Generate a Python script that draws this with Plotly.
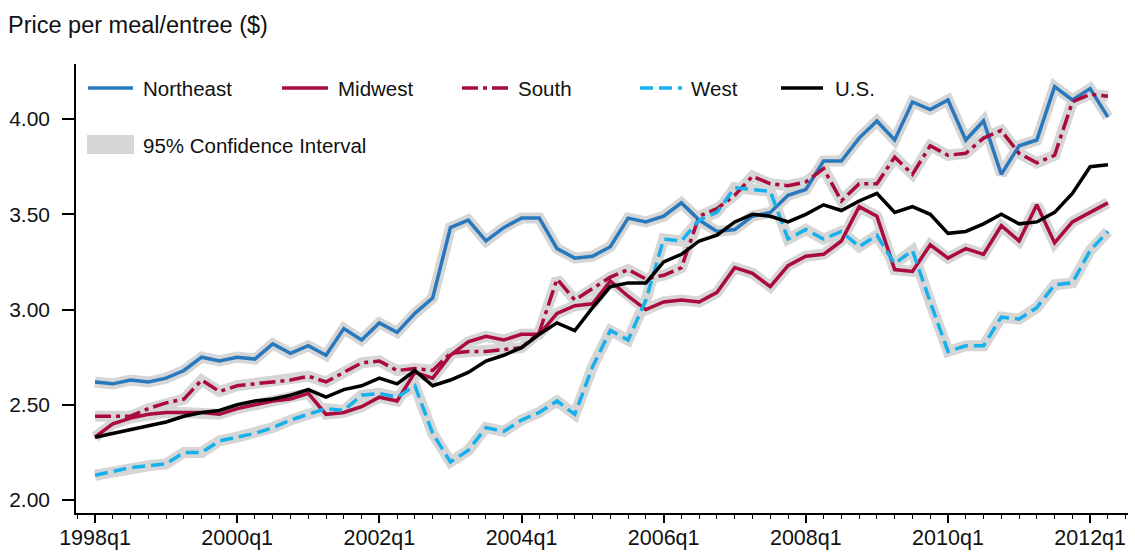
import plotly.graph_objects as go

# Quarterly periods, 1998q1 .. 2012q2
years = list(range(1998, 2013))
quarters = [f"{y}q{q}" for y in years for q in range(1, 5)][:58]
t = list(range(len(quarters)))

northeast = [2.62, 2.61, 2.63, 2.62, 2.64, 2.68, 2.75, 2.73, 2.75, 2.74,
             2.82, 2.77, 2.81, 2.76, 2.90, 2.84, 2.93, 2.88, 2.98, 3.06,
             3.43, 3.47, 3.36, 3.43, 3.48, 3.48, 3.32, 3.27, 3.28, 3.33,
             3.48, 3.46, 3.49, 3.56, 3.47, 3.41, 3.42, 3.49, 3.51, 3.60,
             3.63, 3.78, 3.78, 3.90, 3.99, 3.89, 4.09, 4.05, 4.10, 3.89,
             3.99, 3.71, 3.86, 3.89, 4.17, 4.10, 4.16, 4.01]

midwest = [2.33, 2.40, 2.43, 2.45, 2.46, 2.46, 2.46, 2.45, 2.48, 2.50,
           2.52, 2.53, 2.56, 2.45, 2.46, 2.49, 2.54, 2.52, 2.67, 2.64,
           2.76, 2.83, 2.86, 2.84, 2.87, 2.87, 2.98, 3.02, 3.03, 3.15,
           3.07, 3.00, 3.04, 3.05, 3.04, 3.09, 3.22, 3.19, 3.12, 3.23,
           3.28, 3.29, 3.36, 3.54, 3.49, 3.21, 3.20, 3.34, 3.27, 3.32,
           3.29, 3.44, 3.36, 3.55, 3.35, 3.46, 3.51, 3.56]

south = [2.44, 2.44, 2.44, 2.48, 2.51, 2.53, 2.63, 2.57, 2.60, 2.61,
         2.62, 2.63, 2.65, 2.62, 2.67, 2.72, 2.73, 2.68, 2.69, 2.68,
         2.77, 2.78, 2.78, 2.79, 2.80, 2.88, 3.16, 3.05, 3.11, 3.17,
         3.21, 3.16, 3.18, 3.22, 3.49, 3.53, 3.60, 3.70, 3.66, 3.65,
         3.67, 3.74, 3.57, 3.66, 3.66, 3.80, 3.71, 3.86, 3.81, 3.82,
         3.90, 3.94, 3.82, 3.77, 3.81, 4.09, 4.13, 4.12]

west = [2.13, 2.15, 2.17, 2.18, 2.19, 2.25, 2.25, 2.31, 2.33, 2.35,
        2.38, 2.42, 2.45, 2.48, 2.47, 2.55, 2.56, 2.54, 2.60, 2.35,
        2.20, 2.26, 2.38, 2.36, 2.42, 2.46, 2.52, 2.45, 2.70, 2.89,
        2.84, 3.05, 3.37, 3.36, 3.47, 3.51, 3.64, 3.63, 3.62, 3.37,
        3.42, 3.37, 3.41, 3.33, 3.39, 3.24, 3.31, 3.04, 2.78, 2.81,
        2.81, 2.96, 2.95, 3.01, 3.13, 3.14, 3.31, 3.41]

us = [2.33, 2.35, 2.37, 2.39, 2.41, 2.44, 2.46, 2.47, 2.50, 2.52,
      2.53, 2.55, 2.58, 2.54, 2.58, 2.60, 2.64, 2.61, 2.68, 2.60,
      2.63, 2.67, 2.73, 2.76, 2.80, 2.87, 2.93, 2.89, 3.01, 3.12,
      3.14, 3.14, 3.25, 3.29, 3.36, 3.39, 3.46, 3.50, 3.49, 3.46,
      3.50, 3.55, 3.52, 3.57, 3.61, 3.51, 3.54, 3.50, 3.40, 3.41,
      3.45, 3.50, 3.45, 3.46, 3.51, 3.61, 3.75, 3.76]

y_ticks = [2.0, 2.5, 3.0, 3.5, 4.0]
y_tick_labels = ["2.00", "2.50", "3.00", "3.50", "4.00"]
x_tick_labels = ["1998q1", "2000q1", "2002q1", "2004q1",
                 "2006q1", "2008q1", "2010q1", "2012q1"]
x_ticks = [quarters.index(q) for q in x_tick_labels]

BLUE = "#2878bd"
CRIMSON = "#ab0a3d"
SKY = "#16b0ec"
BLACK = "#000000"
BAND = "#d6d6d6"
FONT = "Liberation Sans"

series = [
    ("Northeast", northeast, BLUE, "solid"),
    ("Midwest", midwest, CRIMSON, "solid"),
    ("South", south, CRIMSON, "16px,5px,4px,5px"),
    ("West", west, SKY, "13px,6px"),
    ("U.S.", us, BLACK, "solid"),
]

fig = go.Figure()

# 95% confidence bands drawn behind every regional series
for name, vals, color, dash in series:
    if name == "U.S.":
        continue
    fig.add_trace(go.Scatter(x=t, y=vals, mode="lines", showlegend=False,
                             hoverinfo="skip",
                             line=dict(color=BAND, width=11)))

for name, vals, color, dash in series:
    fig.add_trace(go.Scatter(x=t, y=vals, mode="lines", name=name,
                             showlegend=False,
                             line=dict(color=color, width=3.5, dash=dash)))

# Legend built from shapes and text
L, R, T, B = 76, 1128, 64, 513


def px(xp):
    return (xp - L) / (R - L)


def py(yp):
    return (B - yp) / (B - T)


legend_items = [
    ("Northeast", BLUE, "solid", 88, 133, 141),
    ("Midwest", CRIMSON, "solid", 282, 328, 336),
    ("South", CRIMSON, "16px,5px,4px,5px", 462, 508, 516),
    ("West", SKY, "13px,6px", 640, 682, 689),
    ("U.S.", BLACK, "solid", 781, 823, 833),
]
shapes = []
annotations = []
for label, color, dash, x0, x1, xt in legend_items:
    shapes.append(dict(type="line", xref="paper", yref="paper",
                       x0=px(x0), x1=px(x1), y0=py(88), y1=py(88),
                       line=dict(color=color, width=3.5, dash=dash)))
    annotations.append(dict(text=label, xref="paper", yref="paper",
                            x=px(xt), y=py(88), xanchor="left",
                            yanchor="middle", showarrow=False,
                            font=dict(family=FONT, size=20.5, color="#111")))
shapes.append(dict(type="rect", xref="paper", yref="paper",
                   x0=px(87), x1=px(134), y0=py(154), y1=py(135),
                   fillcolor=BAND, line=dict(width=0)))
annotations.append(dict(text="95% Confidence Interval", xref="paper",
                        yref="paper", x=px(141), y=py(145), xanchor="left",
                        yanchor="middle", showarrow=False,
                        font=dict(family=FONT, size=20.5, color="#111")))

fig.update_layout(
    width=1135, height=552,
    margin=dict(l=L, r=1135 - R, t=T, b=552 - B, autoexpand=False),
    paper_bgcolor="white", plot_bgcolor="white",
    font=dict(family=FONT, size=21, color="#111"),
    title=dict(text="Price per meal/entree ($)", xref="container",
               yref="container", x=8 / 1135, y=1 - 25 / 552,
               xanchor="left", yanchor="middle",
               font=dict(family=FONT, size=23.5, color="#111")),
    shapes=shapes,
    annotations=annotations,
    showlegend=False,
)

fig.update_xaxes(
    range=[-1.07, 58.13], automargin=False,
    tickmode="array", tickvals=x_ticks, ticktext=x_tick_labels,
    ticks="outside", ticklen=8, tickwidth=1.5, tickcolor="black",
    minor=dict(tickmode="linear", tick0=0, dtick=1, ticks="outside",
               ticklen=4, tickwidth=1, tickcolor="black"),
    showline=True, linecolor="black", linewidth=1.5,
    showgrid=False, zeroline=False, ticklabelstandoff=-4,
    tickfont=dict(family=FONT, size=21.5, color="#111"),
)
fig.update_yaxes(
    range=[1.932, 4.289], automargin=False,
    tickmode="array", tickvals=y_ticks, ticktext=y_tick_labels,
    ticks="outside", ticklen=12, tickwidth=1.5, tickcolor="black",
    showline=True, linecolor="black", linewidth=1.5,
    showgrid=False, zeroline=False, ticklabelstandoff=8,
    tickfont=dict(family=FONT, size=21, color="#111"),
)

fig.write_html("out.html")
